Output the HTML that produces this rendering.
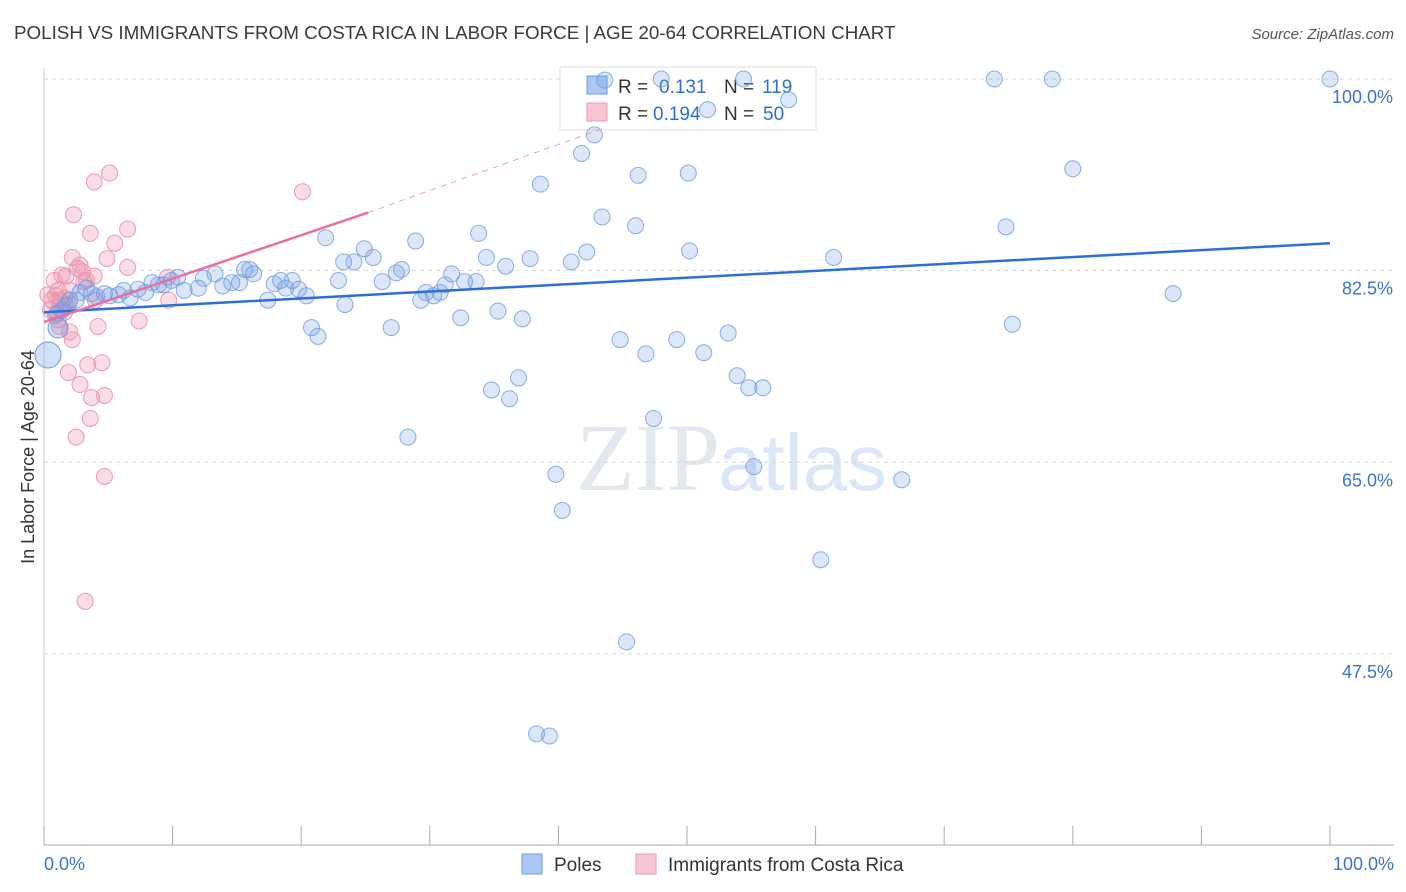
<!DOCTYPE html>
<html><head><meta charset="utf-8">
<style>
body{margin:0;background:#fff;font-family:"Liberation Sans",sans-serif;}
#wrap{position:relative;width:1406px;height:892px;overflow:hidden;}
</style></head>
<body>
<div id="wrap">
<svg id="svg" width="1406" height="892" xmlns="http://www.w3.org/2000/svg">
<text x="14" y="39" font-size="18.8" fill="#3a3a3a">POLISH VS IMMIGRANTS FROM COSTA RICA IN LABOR FORCE | AGE 20-64 CORRELATION CHART</text>
<text x="1394" y="39" font-size="15" fill="#555" font-style="italic" text-anchor="end">Source: ZipAtlas.com</text>
<text x="720" y="490" font-size="96" fill="#e3e7ee" text-anchor="end" font-family="Liberation Serif">ZIP</text>
<text x="718" y="490" font-size="80" fill="#dbe6f6">atlas</text>
<text transform="translate(34,457) rotate(-90)" font-size="18" fill="#333" text-anchor="middle">In Labor Force | Age 20-64</text>
<g id="grid"></g>
<g>
<rect x="560" y="67" width="256" height="63" fill="#fff" stroke="#ddd"/>
<rect x="587" y="76" width="20" height="18" fill="#aac8f2" stroke="#6b9be0"/>
<rect x="587" y="103" width="20" height="18" fill="#f8c5d5" stroke="#e89ab5"/>
<text x="618" y="93" font-size="19" fill="#333">R =</text>
<text x="659" y="93" font-size="19" fill="#2a6fd6">0.131</text>
<text x="724" y="93" font-size="19" fill="#333">N =</text>
<text x="762" y="93" font-size="19" fill="#2a6fd6">119</text>
<text x="618" y="120" font-size="19" fill="#333">R =</text>
<text x="653" y="120" font-size="19" fill="#2a6fd6">0.194</text>
<text x="724" y="120" font-size="19" fill="#333">N =</text>
<text x="763" y="120" font-size="19" fill="#2a6fd6">50</text>
</g>
<g id="marks"></g><g id="trends"></g>
<g>
<rect x="522" y="854" width="20" height="20" fill="#aac8f2" stroke="#6b9be0"/>
<text x="554" y="871" font-size="19" fill="#333">Poles</text>
<rect x="636" y="854" width="20" height="20" fill="#f8c5d5" stroke="#e89ab5"/>
<text x="668" y="871" font-size="19" fill="#333">Immigrants from Costa Rica</text>
</g>
</svg>
</div>
<script>
const yTicks=[100,82.5,65,47.5];
const yTickLabels=["100.0%","82.5%","65.0%","47.5%"];
const xTickLabels=["0.0%","100.0%"];
const bluePx=[[661,79],[744,79],[994,79],[1052,79],[1330,79],[605,80],[708,110],[789,100],[594,135],[582,154],[638,175],[688,173],[541,184],[1073,169],[602,217],[635,226],[1006,227],[479,233],[416,241],[326,238],[364,249],[373,258],[354,262],[344,262],[587,252],[571,262],[690,251],[834,257],[530,259],[506,266],[486,257],[402,269],[396,273],[382,282],[339,280],[452,274],[476,282],[464,282],[445,285],[426,292],[434,296],[440,292],[421,300],[306,296],[298,289],[292,280],[286,288],[274,284],[280,281],[268,300],[250,270],[254,274],[245,269],[240,283],[232,283],[223,286],[215,274],[203,278],[198,288],[184,290],[178,277],[171,280],[164,285],[158,285],[152,283],[146,293],[138,289],[130,298],[124,290],[118,295],[110,296],[104,294],[97,297],[92,294],[86,288],[80,292],[76,300],[70,300],[66,306],[62,310],[57,313],[1173,294],[1012,324],[728,333],[620,340],[646,354],[677,340],[704,353],[737,376],[749,388],[763,388],[519,378],[492,390],[509,399],[498,311],[523,319],[461,318],[391,328],[312,328],[318,336],[345,305],[653,418],[408,437],[754,467],[556,474],[902,480],[562,510],[821,560],[627,642],[536,734],[550,736]];
const pinkPx=[[48,295],[52,300],[50,310],[56,296],[60,300],[64,298],[68,305],[58,290],[62,275],[66,276],[70,290],[72,258],[78,268],[82,272],[86,280],[74,215],[90,233],[94,182],[110,173],[115,243],[127,229],[107,259],[127,267],[84,282],[56,316],[60,326],[64,312],[70,332],[72,340],[68,373],[80,384],[88,365],[102,363],[98,327],[92,398],[104,396],[90,418],[76,437],[104,476],[85,601],[139,321],[169,300],[303,192],[168,277],[80,265],[58,320],[54,280],[94,276],[60,307],[96,300]];
const round=v=>Math.round(v*10)/10;
const blueX=bluePx.map(p=>round((p[0]-44)/12.86));
const blueY=bluePx.map(p=>round(100-(p[1]-79)/10.95));
const pinkX=pinkPx.map(p=>round((p[0]-44)/12.86));
const pinkY=pinkPx.map(p=>round(100-(p[1]-79)/10.95));
const blueTrend=[[0,78.7],[100,85.0]];
const pinkTrend=[[0,77.8],[25.2,87.8],[43.5,95.5]];
const sx=v=>44+v*12.86, sy=v=>79+(100-v)*10.95;
const NS="http://www.w3.org/2000/svg";
function mk(t,a,parent){const e=document.createElementNS(NS,t);for(const k in a)e.setAttribute(k,a[k]);parent.appendChild(e);return e;}
const grid=document.getElementById('grid');
yTicks.forEach((t,i)=>{
 const l=mk('line',{x1:44,x2:1394,y1:sy(t),y2:sy(t),stroke:'#d8d8d8','stroke-dasharray':'4,4'},grid);
 
 
 const tx=mk('text',{x:1393,y:sy(t)+24,'font-size':18,fill:'#3b72d0','text-anchor':'end'},grid);
 tx.textContent=yTickLabels[i];
 
 
});
const ax=mk('line',{x1:44,x2:1394,y1:845,y2:845,stroke:'#aaa'},grid);


const ay=mk('line',{x1:44,x2:44,y1:68,y2:845,stroke:'#ccc'},grid);


for(let i=0;i<=10;i++){
 const t=mk('line',{x1:sx(i*10),x2:sx(i*10),y1:826,y2:845,stroke:'#aaa'},grid);
 
 
}
[[0,'start',44],[100,'end',1394]].forEach((d,i)=>{
 const tx=mk('text',{x:d[2],y:870,'font-size':18,fill:'#3b72d0','text-anchor':d[1]},grid);
 tx.textContent=xTickLabels[i];
 
 
});
const marks=document.getElementById('marks');
pinkX.forEach((x,i)=>{
 const c=mk('circle',{cx:sx(x),cy:sy(pinkY[i]),r:8,fill:'rgba(240,140,170,0.3)',stroke:'#e89ab5','stroke-width':1},marks);
 
 
});
blueX.forEach((x,i)=>{
 const c=mk('circle',{cx:sx(x),cy:sy(blueY[i]),r:8,fill:'rgba(110,155,230,0.25)',stroke:'#6b9be0','stroke-width':1,'stroke-opacity':0.8},marks);
 
 
});
[[48,355,13],[58,328,10]].forEach(p=>{
 const c=mk('circle',{cx:p[0],cy:p[1],r:p[2],fill:'rgba(110,155,230,0.3)',stroke:'#6b9be0'},marks);
 
 
});
const tr=document.getElementById('trends');
const bl=mk('line',{x1:sx(blueTrend[0][0]),y1:sy(blueTrend[0][1]),x2:sx(blueTrend[1][0]),y2:sy(blueTrend[1][1]),stroke:'#2a6fd6','stroke-width':2.5},tr);


const pl=mk('line',{x1:sx(pinkTrend[0][0]),y1:sy(pinkTrend[0][1]),x2:sx(pinkTrend[1][0]),y2:sy(pinkTrend[1][1]),stroke:'#e8709a','stroke-width':2.5},tr);


const pd=mk('line',{x1:sx(pinkTrend[1][0]),y1:sy(pinkTrend[1][1]),x2:sx(pinkTrend[2][0]),y2:sy(pinkTrend[2][1]),stroke:'#eaa0ba','stroke-width':1,'stroke-dasharray':'6,5'},tr);


</script>
</body></html>
